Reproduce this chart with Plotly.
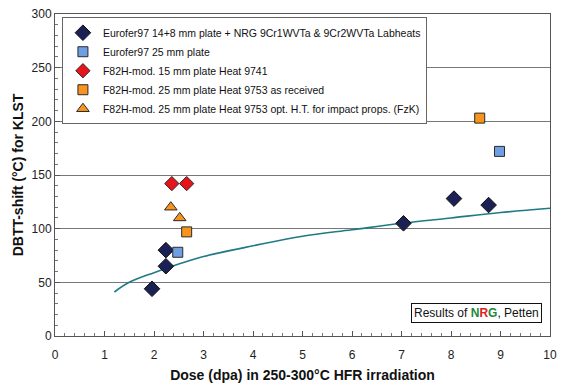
import plotly.graph_objects as go

# Eurofer97 14+8 mm plate + NRG labheats (navy diamonds)
euro_x = [1.96, 2.24, 2.24, 7.04, 8.06, 8.76]
euro_y = [44, 65, 80, 105, 128, 122]
# Eurofer97 25 mm plate (light blue squares)
e25_x = [2.48, 8.98]
e25_y = [78, 172]
# F82H-mod 15 mm plate Heat 9741 (red diamonds)
f15_x = [2.36, 2.66]
f15_y = [142, 142]
# F82H-mod 25 mm plate Heat 9753 as received (orange squares)
f25_x = [2.66, 8.58]
f25_y = [97, 203]
# F82H-mod 25 mm opt. H.T. (orange triangles)
fht_x = [2.34, 2.52]
fht_y = [120, 110]
# trend curve
cur_x = [1.2, 1.5, 2.0, 2.5, 3.0, 4.0, 5.0, 6.0, 7.0, 8.0, 9.0, 10.0]
cur_y = [41, 50, 59, 67, 74, 84, 93, 99, 105, 110, 115, 119]

x_ticks = [0, 1, 2, 3, 4, 5, 6, 7, 8, 9, 10]
y_ticks = [0, 50, 100, 150, 200, 250, 300]

navy = "#1b2155"
outline = "#2a2a2a"

fig = go.Figure()
fig.add_trace(go.Scatter(x=cur_x, y=cur_y, mode="lines", line=dict(color="#1f7a86", width=1.6, shape="spline"),
                         showlegend=False, hoverinfo="skip"))
fig.add_trace(go.Scatter(x=euro_x, y=euro_y, mode="markers",
                         name="Eurofer97 14+8 mm plate + NRG 9Cr1WVTa & 9Cr2WVTa Labheats",
                         marker=dict(symbol="diamond", size=12, color=navy, line=dict(color="#111", width=1))))
fig.add_trace(go.Scatter(x=e25_x, y=e25_y, mode="markers", name="Eurofer97 25 mm plate",
                         marker=dict(symbol="square", size=10, color="#6f9fe2", line=dict(color=outline, width=1))))
fig.add_trace(go.Scatter(x=f15_x, y=f15_y, mode="markers", name="F82H-mod. 15 mm plate Heat 9741",
                         marker=dict(symbol="diamond", size=11, color="#e8141c", line=dict(color=outline, width=1))))
fig.add_trace(go.Scatter(x=f25_x, y=f25_y, mode="markers", name="F82H-mod. 25 mm plate Heat 9753 as received",
                         marker=dict(symbol="square", size=10, color="#f7941d", line=dict(color=outline, width=1))))
fig.add_trace(go.Scatter(x=fht_x, y=fht_y, mode="markers",
                         name="F82H-mod. 25 mm plate Heat 9753 opt. H.T. for impact props. (FzK)",
                         marker=dict(symbol="triangle-up", size=11, color="#f7941d", line=dict(color=outline, width=1))))

fig.add_annotation(x=9.84, y=21, xref="x", yref="y", xanchor="right", yanchor="middle",
                   text="Results of <b><span style='color:#1a8a3a'>N</span><span style='color:#e02020'>R</span>"
                        "<span style='color:#1a8a3a'>G</span></b>, Petten",
                   showarrow=False, font=dict(family="Liberation Sans, Arial", size=12, color="#111"),
                   bgcolor="white", bordercolor="#111", borderwidth=1, borderpad=2)

fig.update_layout(
    width=564, height=392,
    margin=dict(l=55, r=7, t=12, b=56),
    paper_bgcolor="white", plot_bgcolor="white",
    font=dict(family="Liberation Sans, Arial", size=12, color="#222"),
    legend=dict(x=0.014, y=0.99, xanchor="left", yanchor="top",
                bgcolor="white", bordercolor="#666", borderwidth=1,
                font=dict(size=10.5, color="#111"), tracegroupgap=0, itemwidth=30),
    xaxis=dict(range=[0, 10], tickvals=x_ticks, ticktext=[str(v) for v in x_ticks],
               showgrid=False, zeroline=False, showline=True, linecolor="#555", mirror=True,
               ticks="inside", ticklen=5, tickcolor="#555", ticklabelstandoff=8,
               minor=dict(dtick=0.2, ticks="inside", ticklen=3, tickcolor="#777"),
               title=dict(text="<b>Dose (dpa) in 250-300°C HFR irradiation</b>", font=dict(size=14, color="#111"),
                          standoff=8)),
    yaxis=dict(range=[0, 300], tickvals=y_ticks, ticktext=[str(v) for v in y_ticks],
               showgrid=True, gridcolor="#777", gridwidth=1, zeroline=False,
               showline=True, linecolor="#555", mirror=True,
               ticks="inside", ticklen=5, tickcolor="#555",
               minor=dict(dtick=10, ticks="inside", ticklen=3, tickcolor="#777", showgrid=False),
               title=dict(text="<b>DBTT-shift (°C) for KLST</b>", font=dict(size=14, color="#111"), standoff=4)),
)

fig.write_html("out.html")
